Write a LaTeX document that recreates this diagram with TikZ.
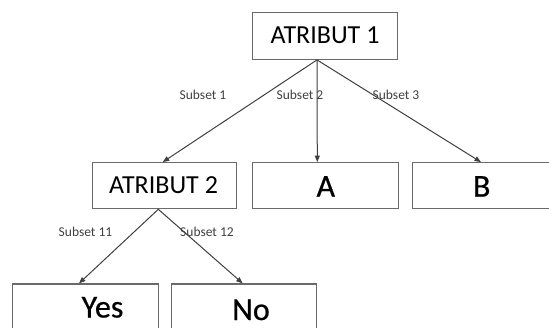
\documentclass[tikz,border=0pt]{standalone}
\usepackage{fontspec}
\setmainfont{Carlito}
\usetikzlibrary{arrows.meta}
\definecolor{boxgray}{HTML}{6A6A6A}
\definecolor{linegray}{HTML}{404040}
\definecolor{labgray}{HTML}{404040}
\begin{document}
\begin{tikzpicture}[x=1pt,y=-1pt,
  box/.style={draw=boxgray,line width=1.2pt,inner sep=0pt,minimum height=46pt,minimum width=#1},
  box/.default=145pt,
  bigtxt/.style={anchor=base,inner sep=0pt,text=black,font=\fontsize{26}{28}\selectfont},
  leaftxt/.style={anchor=base,inner sep=0pt,text=black,font=\fontsize{32}{34}\selectfont\addfontfeature{FakeBold=0.6}},
  sublab/.style={inner sep=0pt,text=labgray,font=\fontsize{13.5}{15}\selectfont},
  conn/.style={draw=linegray,line width=1pt,-{Triangle[length=6.5pt,width=5pt]}}]
\useasboundingbox (0,0) rectangle (549,327);
\fill[white] (0,0) rectangle (549,327);
% boxes
\node[box=144.6pt,minimum height=46.6pt] (a1) at (325,36) {};
\node[box=144pt] (a2) at (164.7,185.7) {};
\node[box=146pt] (bA) at (325.7,185.7) {};
\node[box=146pt] (bB) at (485.7,185.7) {};
\node[box=145.6pt] (yes) at (85.5,307) {};
\node[box=145pt] (no) at (244.2,307) {};
% texts
\node[bigtxt] (t1) at (325,43.3) {ATRIBUT 1};
\node[bigtxt] (t2) at (163.5,193.3) {ATRIBUT 2};
\node[leaftxt] (tA) at (325.8,196.7) {A};
\node[leaftxt] (tB) at (481.7,196.7) {B};
\node[leaftxt] (tY) at (102.5,317.5) {Yes};
\node[leaftxt] (tN) at (251,320) {No};
% connectors
\draw[conn] ([xshift=-8pt]a1.south) -- ([xshift=-2pt]a2.north);
\draw[conn] ([xshift=-8pt]a1.south) -- ([xshift=-8.4pt]bA.north);
\draw[conn] ([xshift=-8pt]a1.south) -- ([xshift=-4.7pt]bB.north);
\draw[conn] ([xshift=-6.4pt]a2.south) -- ([xshift=-6.5pt]yes.north);
\draw[conn] ([xshift=-6.4pt]a2.south) -- ([xshift=-1.5pt]no.north);
% labels
\node[sublab] (s1) at (203,94.5) {Subset 1};
\node[sublab] (s2) at (300,94.5) {Subset 2};
\node[sublab] (s3) at (396,94.5) {Subset 3};
\node[sublab] (s11) at (85.5,231.5) {Subset 11};
\node[sublab] (s12) at (207,231.5) {Subset 12};
\end{tikzpicture}
\end{document}
